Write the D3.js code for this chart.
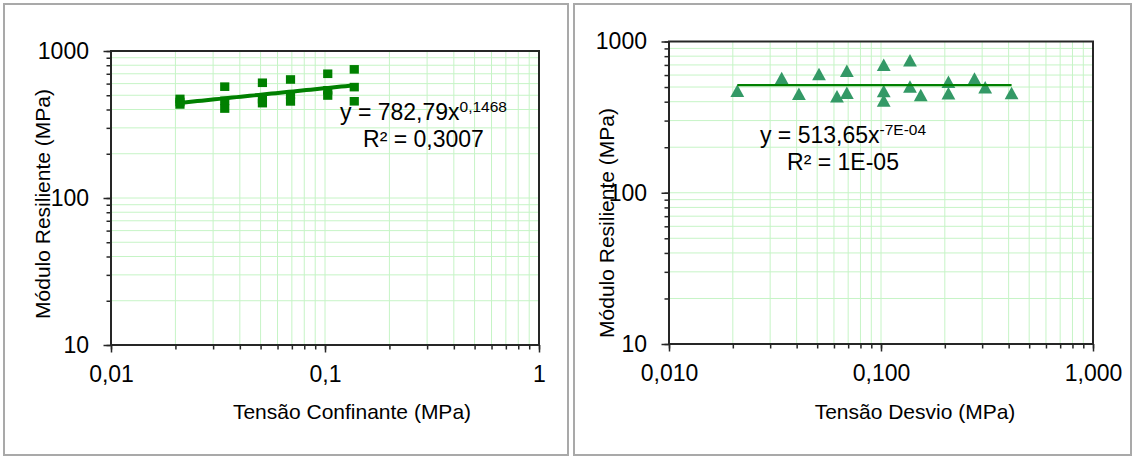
<!DOCTYPE html>
<html>
<head>
<meta charset="utf-8">
<script src="https://cdn.jsdelivr.net/npm/d3@7"></script>
<style>
  html, body { margin: 0; padding: 0; background: #fff; }
  svg { display: block; font-family: "Liberation Sans", Arial, sans-serif; }
</style>
</head>
<body>
<svg id="chart" width="1134" height="457"></svg>
<script>
// ---- data ----
const tensaoConfinante = [0.021, 0.021, 0.021, 0.034, 0.034, 0.034, 0.051, 0.051, 0.051,
                          0.069, 0.069, 0.069, 0.103, 0.103, 0.103, 0.137, 0.137, 0.137];
const tensaoDesvio     = [0.021, 0.041, 0.062, 0.034, 0.069, 0.103, 0.051, 0.103, 0.154,
                          0.069, 0.137, 0.208, 0.103, 0.208, 0.310, 0.137, 0.276, 0.413];
const moduloResiliente = [472, 450, 433, 572, 458, 406, 608, 470, 442,
                          640, 503, 454, 700, 540, 498, 750, 568, 455];

const fitConfinante = [782.79, 0.1468];   // y = a x^b
const fitDesvio     = [513.65, -0.0007];

const yTickValues = [10, 100, 1000];
const yTickLabels = ["10", "100", "1000"];
const xTickValues = [0.01, 0.1, 1];
const xTickLabelsConf = ["0,01", "0,1", "1"];
const xTickLabelsDesv = ["0,010", "0,100", "1,000"];

const eqConf = ["y = 782,79x", "0,1468", "R² = 0,3007"];
const eqDesv = ["y = 513,65x", "-7E-04", "R² = 1E-05"];
const xTitleConf = "Tensão Confinante (MPa)";
const xTitleDesv = "Tensão Desvio (MPa)";
const yTitle = "Módulo Resiliente (MPa)";

// ---- drawing ----
const svg = d3.select("#chart");
const gridColor = "#c6f4c6";
const axisColor = "#262626";

function minorValues(lo, hi) {
  const out = [];
  for (let e = Math.floor(Math.log10(lo)); e <= Math.ceil(Math.log10(hi)); e++) {
    for (let k = 1; k <= 9; k++) {
      const v = k * Math.pow(10, e);
      if (v >= lo * 0.9999 && v <= hi * 1.0001) out.push(v);
    }
  }
  return out;
}

function drawPanel(cfg) {
  const x = d3.scaleLog().domain([0.01, 1]).range([cfg.x0, cfg.x1]);
  const y = d3.scaleLog().domain([10, 1000]).range([cfg.y1, cfg.y0]);
  const g = svg.append("g");

  // outer frame
  g.append("rect").attr("x", cfg.fx0).attr("y", 4).attr("width", cfg.fx1 - cfg.fx0).attr("height", 451)
    .attr("fill", "#fff").attr("stroke", "#a9a9a9").attr("stroke-width", 2);

  // gridlines
  const xg = minorValues(0.01, 1), yg = minorValues(10, 1000);
  g.append("g").selectAll("line").data(xg).join("line")
    .attr("x1", d => x(d)).attr("x2", d => x(d)).attr("y1", cfg.y0).attr("y2", cfg.y1)
    .attr("stroke", gridColor).attr("stroke-width", 1);
  g.append("g").selectAll("line").data(yg).join("line")
    .attr("y1", d => y(d)).attr("y2", d => y(d)).attr("x1", cfg.x0).attr("x2", cfg.x1)
    .attr("stroke", gridColor).attr("stroke-width", 1);

  // minor ticks
  g.append("g").attr("transform", `translate(${cfg.x0},0)`)
    .call(d3.axisLeft(y).tickValues(yg).tickSize(4.5).tickFormat(""))
    .call(a => a.select(".domain").remove())
    .call(a => a.selectAll("line").attr("stroke", axisColor).attr("stroke-width", 1.5));
  g.append("g").attr("transform", `translate(0,${cfg.y1})`)
    .call(d3.axisBottom(x).tickValues(xg).tickSize(4.5).tickFormat(""))
    .call(a => a.select(".domain").remove())
    .call(a => a.selectAll("line").attr("stroke", axisColor).attr("stroke-width", 1.5));

  // major ticks + labels
  g.append("g").attr("transform", `translate(${cfg.x0},0)`)
    .call(d3.axisLeft(y).tickValues(yTickValues).tickSize(7.5).tickPadding(14.5)
      .tickFormat((d, i) => yTickLabels[i]))
    .call(a => a.select(".domain").remove())
    .call(a => a.selectAll("line").attr("stroke", axisColor).attr("stroke-width", 1.5))
    .call(a => a.selectAll("text").attr("font-size", 23).attr("fill", "#000")
      .attr("font-family", "Liberation Sans, Arial, sans-serif"));
  g.append("g").attr("transform", `translate(0,${cfg.y1})`)
    .call(d3.axisBottom(x).tickValues(xTickValues).tickSize(7.5).tickPadding(13.5)
      .tickFormat((d, i) => cfg.xLabels[i]))
    .call(a => a.select(".domain").remove())
    .call(a => a.selectAll("line").attr("stroke", axisColor).attr("stroke-width", 1.5))
    .call(a => a.selectAll("text").attr("font-size", 23).attr("fill", "#000")
      .attr("font-family", "Liberation Sans, Arial, sans-serif"));

  // plot border
  g.append("rect").attr("x", cfg.x0).attr("y", cfg.y0)
    .attr("width", cfg.x1 - cfg.x0).attr("height", cfg.y1 - cfg.y0)
    .attr("fill", "none").attr("stroke", axisColor).attr("stroke-width", 2);

  // markers
  const pts = cfg.xs.map((v, i) => [v, moduloResiliente[i]]);
  if (cfg.marker === "square") {
    g.append("g").selectAll("rect").data(pts).join("rect")
      .attr("x", d => x(d[0]) - 4.6).attr("y", d => y(d[1]) - 4.3)
      .attr("width", 9.2).attr("height", 8.6).attr("fill", cfg.markerColor);
  } else {
    g.append("g").selectAll("path").data(pts).join("path")
      .attr("d", d => {
        const cx = x(d[0]), cy = y(d[1]);
        return `M${cx},${cy - 6.4}L${cx + 6.9},${cy + 6.1}L${cx - 6.9},${cy + 6.1}Z`;
      })
      .attr("fill", cfg.markerColor);
  }

  // trendline
  const [a, b] = cfg.fit;
  const xmin = d3.min(cfg.xs), xmax = d3.max(cfg.xs);
  const tv = d3.range(0, 41).map(i => xmin * Math.pow(xmax / xmin, i / 40));
  g.append("path")
    .attr("d", d3.line().x(d => x(d)).y(d => y(a * Math.pow(d, b)))(tv))
    .attr("fill", "none").attr("stroke", "#008000").attr("stroke-width", cfg.lineWidth);

  // equation
  const t1 = g.append("text").attr("x", cfg.eqX).attr("y", cfg.eqY).attr("text-anchor", "middle")
    .attr("font-size", 23).attr("fill", "#000");
  t1.append("tspan").text(cfg.eq[0]);
  t1.append("tspan").attr("dy", -7.5).attr("font-size", 15.5).text(cfg.eq[1]);
  g.append("text").attr("x", cfg.eqX).attr("y", cfg.eqY + 27.5).attr("text-anchor", "middle")
    .attr("font-size", 23).attr("fill", "#000").text(cfg.eq[2]);

  // axis titles
  g.append("text").attr("x", cfg.xtX).attr("y", 419).attr("text-anchor", "middle")
    .attr("font-size", 21).attr("fill", "#000").text(cfg.xTitle);
  g.append("text").attr("transform", `translate(${cfg.ytX},${cfg.ytY}) rotate(-90)`)
    .attr("text-anchor", "middle").attr("font-size", 21).attr("fill", "#000").text(yTitle);
}

drawPanel({
  fx0: 4, fx1: 568, x0: 111, x1: 539, y0: 51, y1: 345,
  xs: tensaoConfinante, fit: fitConfinante, marker: "square", markerColor: "#008000",
  lineWidth: 4, xLabels: xTickLabelsConf, eq: eqConf, eqX: 423.5, eqY: 119.5,
  xTitle: xTitleConf, xtX: 352, ytX: 50, ytY: 204
});
drawPanel({
  fx0: 574, fx1: 1131, x0: 669, x1: 1093, y0: 41.5, y1: 344,
  xs: tensaoDesvio, fit: fitDesvio, marker: "triangle", markerColor: "#339966",
  lineWidth: 2.2, xLabels: xTickLabelsDesv, eq: eqDesv, eqX: 843, eqY: 142.7,
  xTitle: xTitleDesv, xtX: 915, ytX: 614, ytY: 223
});
</script>
</body>
</html>
